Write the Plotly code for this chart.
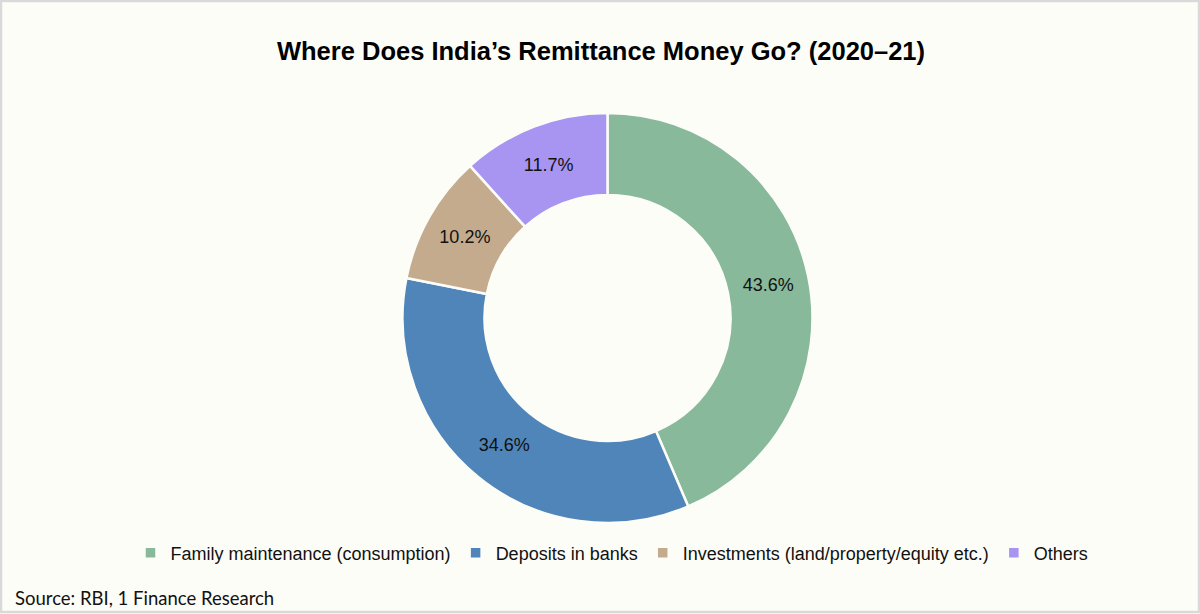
#!/usr/bin/env python3

import plotly.graph_objects as go

# data
categories = ["Family maintenance (consumption)", "Deposits in banks",
              "Investments (land/property/equity etc.)", "Others"]
shares = [43.6, 34.6, 10.2, 11.7]
labels_text = ["43.6%", "34.6%", "10.2%", "11.7%"]
colors = ["#88B99B", "#4F85B9", "#C4AB8D", "#A795F1"]

W, H = 1200, 614
ML, MR, MT, MB = 15, 0, 113, 91
PW, PH = W - ML - MR, H - MT - MB


def px_x(x):
    # pixel from left -> paper x
    return (x - ML) / PW


def px_y(y):
    # pixel from top -> paper y
    return (H - y - MB) / PH


fig = go.Figure()

fig.add_trace(go.Pie(labels=categories,
                     values=shares,
                     text=labels_text,
                     textinfo="text",
                     textposition="inside",
                     insidetextorientation="horizontal",
                     hole=0.6,
                     sort=False,
                     direction="clockwise",
                     rotation=0,
                     marker=dict(colors=colors,
                                 line=dict(color="#FDFDF8", width=2.5)),
                     textfont=dict(family="Liberation Sans, Arial", size=18,
                                   color="#111111")))

fig.update_layout(
    width=W, height=H,
    paper_bgcolor="#FDFDF8",
    plot_bgcolor="#FDFDF8",
    margin=dict(l=ML, r=MR, t=MT, b=MB),
    title=dict(text="<b>Where Does India’s Remittance Money Go? (2020–21)</b>",
               x=601 / W, xanchor="center", y=1 - 51 / H, yanchor="middle",
               font=dict(family="Liberation Sans, Arial", size=25.5,
                         color="#000000")),
    legend=dict(orientation="h", x=px_x(612), xanchor="center",
                y=px_y(553), yanchor="middle",
                font=dict(family="Liberation Sans, Arial", size=18,
                          color="#111111"),
                bgcolor="rgba(0,0,0,0)"),
    showlegend=True,
)

fig.add_annotation(text="Source: RBI, 1 Finance Research",
                   xref="paper", yref="paper",
                   x=px_x(13), y=px_y(598), xanchor="left", yanchor="middle",
                   showarrow=False,
                   font=dict(family="Lato, Open Sans", size=18.5,
                             color="#111111"))

# grey frame round the whole picture
fig.add_shape(type="rect", xref="paper", yref="paper",
              x0=px_x(1), x1=px_x(1199), y0=px_y(612), y1=px_y(1),
              line=dict(color="#D9D9D9", width=2.5),
              fillcolor="rgba(0,0,0,0)", layer="below")

# page body margin would push the figure out of the window
fig.write_html("out.html", config={"displayModeBar": False},
               post_script="document.body.style.margin='0';")
